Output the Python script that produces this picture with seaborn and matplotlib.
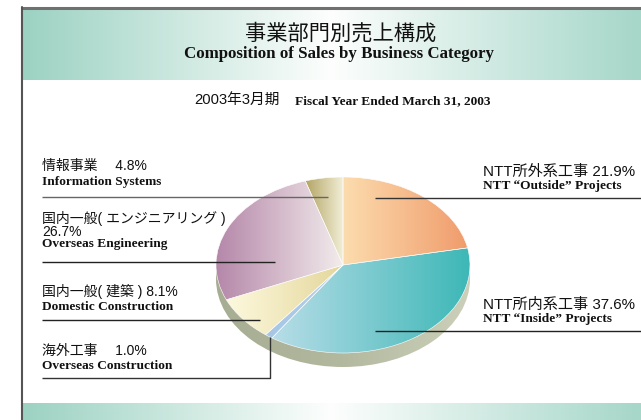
import numpy as np
import matplotlib
matplotlib.use("Agg")
import matplotlib.pyplot as plt
import seaborn as sns
from matplotlib.colors import LinearSegmentedColormap
from matplotlib.patches import Ellipse

sns.set_theme(style="white")
plt.rcParams['font.family'] = ['Liberation Sans', 'Noto Sans CJK JP', 'DejaVu Sans']

# data, clockwise from 12 o'clock
names_jp = ["NTT所外系工事", "NTT所内系工事", "海外工事", "国内一般( 建築 )",
            "国内一般( エンジニアリング )", "情報事業"]
names_en = ["NTT \u201cOutside\u201d Projects", "NTT \u201cInside\u201d Projects",
            "Overseas Construction", "Domestic Construction",
            "Overseas Engineering", "Information Systems"]
shares = [21.9, 37.6, 1.0, 8.1, 26.7, 4.8]

title_jp = "事業部門別売上構成"
title_en = "Composition of Sales by Business Category"
sub_jp = "2003年3月期"
sub_en = "Fiscal Year Ended March 31, 2003"

# gradient colours per wedge (left -> right)
grads = [("#fcdcae", "#f09c6c"),
         ("#b8dde8", "#3cb7b6"),
         ("#a6c6e6", "#b4d2ec"),
         ("#fdf9de", "#e4d79c"),
         ("#b487a9", "#f3ecec"),
         ("#b3a464", "#f1eed6")]

W, H = 641, 420
fig = plt.figure(figsize=(W / 100, H / 100), dpi=100)
fig.patch.set_facecolor("white")

# background: bands and border
bg = fig.add_axes([0, 0, 1, 1])
bg.set_xlim(0, W)
bg.set_ylim(H, 0)
bg.axis("off")
band_cmap = LinearSegmentedColormap.from_list(
    "band", [(0, "#9cd2c2"), (0.5, "#fdfefd"), (1, "#a6d7c9")])
bg.imshow(np.linspace(0, 1, 256)[None, :], cmap=band_cmap, extent=(22, W, 80, 9),
          aspect="auto", interpolation="bicubic")
bg.imshow(np.linspace(0, 1, 256)[None, :], cmap=band_cmap, extent=(22, W, H, 403),
          aspect="auto", interpolation="bicubic")
bg.plot([22, W], [8, 8], color="#707070", lw=2.2)
bg.plot([22, 22], [7, H], color="#555555", lw=1.5)
bg.set_xlim(0, W)
bg.set_ylim(H, 0)

# pie, squashed into an ellipse
cx_l, cx_r, cy_t, cy_b = 216, 470, 177, 372
ry = 88.0
pa = fig.add_axes([cx_l / W, 1 - cy_b / H, (cx_r - cx_l) / W, (cy_b - cy_t) / H])
ylow = 1 - (cy_b - cy_t) / ry
depth = 14 / ry

side = Ellipse((0, -depth), 2, 2, facecolor="none", edgecolor="none")
pa.add_patch(side)
side_cmap = LinearSegmentedColormap.from_list("side", ["#a6ad92", "#b3b99f", "#ccd0ba"])
im = pa.imshow(np.linspace(0, 1, 256)[None, :], cmap=side_cmap,
               extent=(-1, 1, -1 - depth, 1 - depth), aspect="auto", zorder=1)
im.set_clip_path(side)

wedges, _ = pa.pie(shares, startangle=90, counterclock=False, radius=1,
                   wedgeprops=dict(linewidth=0.4, edgecolor="#ffffff"))
for w, (c0, c1) in zip(wedges, grads):
    v = w.get_path().vertices
    x0, x1 = v[:, 0].min(), v[:, 0].max()
    cm = LinearSegmentedColormap.from_list("g", [c0, c1])
    gi = pa.imshow(np.linspace(0, 1, 256)[None, :], cmap=cm, extent=(x0, x1, -1, 1),
                   aspect="auto", zorder=3, interpolation="bicubic")
    gi.set_clip_path(w)
    w.set_facecolor("none")
    w.set_zorder(4)
pa.set_aspect("auto")
pa.set_xlim(-1, 1)
pa.set_ylim(ylow, 1)
pa.axis("off")

# overlay: leader lines and labels
ov = fig.add_axes([0, 0, 1, 1])
ov.set_xlim(0, W)
ov.set_ylim(H, 0)
ov.axis("off")
ov.patch.set_alpha(0)

sans = ['Liberation Sans', 'Noto Sans CJK JP']
serif = 'Liberation Serif'
ink = "#111111"

ov.text(341, 34, title_jp, ha="center", va="center", fontsize=15.3,
        family=['Noto Sans CJK JP'], color=ink)
ov.text(339, 58, title_en, ha="center", va="baseline", fontsize=12.2,
        family=serif, weight="bold", color=ink)
ov.text(280, 104, sub_jp, ha="right", va="baseline", fontsize=10.6, family=sans,
        color=ink)
ov.text(295, 104, sub_en, ha="left", va="baseline", fontsize=9.6,
        family=serif, weight="bold", color=ink)

# (x, jp baseline, en baseline, pct-line baseline or None, jp size)
spots = [(483, 176, 189, None, 10.9),
         (483, 309, 322, None, 10.9),
         (42, 355, 369, None, 10),
         (42, 296, 310, None, 10),
         (42, 223, 247, 235.5, 10),
         (42, 170, 185, None, 10)]
seps = [" ", " ", "\u3000 ", " ", "", "\u3000 "]
for nj, ne, s, (x, yj, ye, yp, fs), sep in zip(names_jp, names_en, shares, spots, seps):
    pct = f"{s:.1f}%"
    if yp is None:
        ov.text(x, yj, nj + sep + pct, ha="left", va="baseline", fontsize=fs,
                family=sans, color=ink)
    else:
        ov.text(x, yj, nj, ha="left", va="baseline", fontsize=fs, family=sans,
                color=ink)
        ov.text(x, yp, pct, ha="left", va="baseline", fontsize=fs, family=sans,
                color=ink)
    ov.text(x, ye, ne, ha="left", va="baseline", fontsize=9.6, family=serif,
            weight="bold", color=ink)

lines = [([375, W], [198, 198], "#333333"),
         ([375, W], [331, 331], "#222222"),
         ([42, 270, 270], [378, 378, 337], "#333333"),
         ([42, 260], [320, 320], "#222222"),
         ([42, 275], [262, 262], "#222222"),
         ([42, 328], [197, 197], "#666666")]
for xs, ys, c in lines:
    ov.plot(xs, ys, color=c, lw=1.0, solid_capstyle="butt")
ov.set_xlim(0, W)
ov.set_ylim(H, 0)

fig.savefig("out.png", dpi=100)
